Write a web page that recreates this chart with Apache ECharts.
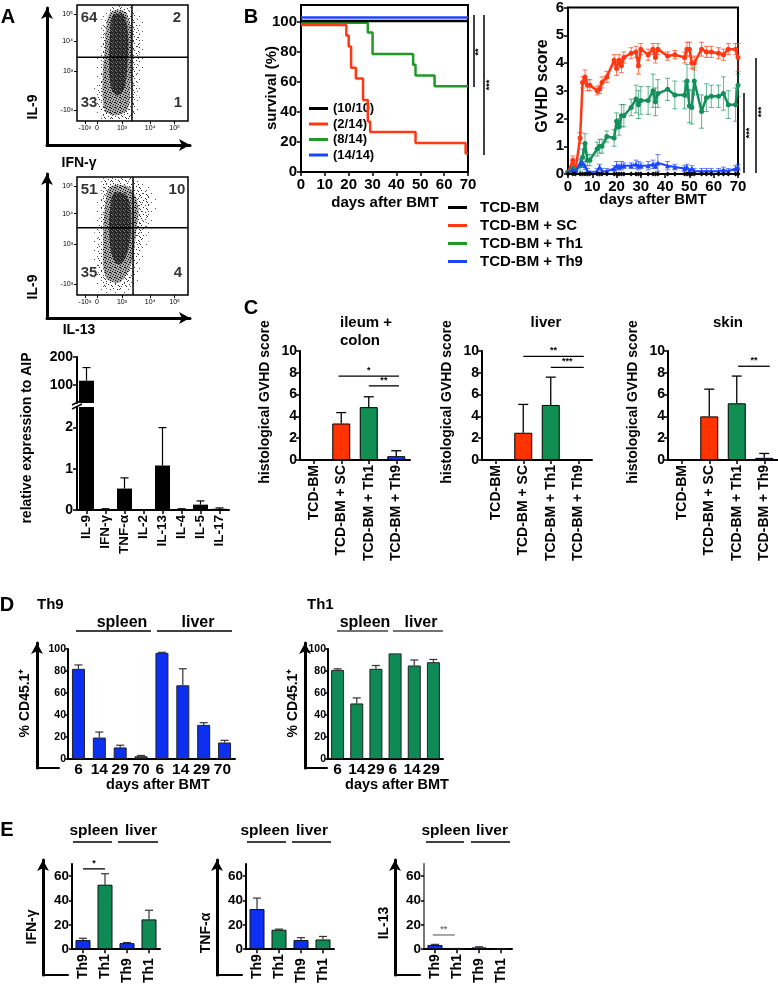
<!DOCTYPE html>
<html><head><meta charset="utf-8">
<script src="https://cdn.jsdelivr.net/npm/echarts@6/dist/echarts.min.js"></script>
<style>html,body{margin:0;padding:0;background:#fff}#c{width:778px;height:986px}</style>
</head><body><div id="c"></div>
<script>
// ================= DATA =================
// A – flow cytometry (axis units 0..100 on a biexponential display scale)
const flowXTicks = [7, 18, 40.5, 66, 88];
const flowXLabels = ['-10³', '0', '10³', '10⁴', '10⁵'];
const flowYTicks = [9, 43, 69, 92];
const flowYLabels = ['-10³', '10³', '10⁴', '10⁵'];
const flow1Quad = [49.5, 55];          // IFN-γ gate, IL-9 gate
const flow1Pct = ['64', '2', '33', '1']; // UL, UR, LL, LR
const flow2Quad = [50.5, 57];
const flow2Pct = ['51', '10', '35', '4'];
const flow1Halo = [[30,99],[46,99.5],[57,92],[62,70],[59,42],[56,15],[52,0.5],[36,0],[20,1],[15,18],[17,42],[19,65],[22,88]];
const flow1Outer = [[31.5,97.4],[43.2,98.3],[52.3,91.4],[56.8,69.8],[55.0,44.0],[53.2,18.1],[50.5,2.6],[36.9,0.9],[23.4,2.6],[18.9,18.1],[20.7,39.7],[22.5,61.2],[24.3,82.8]];
const flow1Mid = [[30.5,94],[43,94.5],[49,78],[49,55],[48,30],[45.5,10],[34.2,5],[25,10],[23,36],[25,60],[26.5,82]];
const flow1Core = [[32.4,91],[42,91],[46,74],[45.5,50],[43,30],[37,22],[31,28],[29,50],[29.7,72]];
const flow2Halo = [[23,99],[45,99.8],[62,95],[72,80],[66,52],[59,26],[50,4],[28,1],[17,10],[15,38],[17,72],[19,91]];
const flow2Outer = [[25.2,97.5],[43.2,99.2],[56.8,93.2],[65.8,80.5],[61.3,55.1],[55,29.7],[47.7,8.5],[29.7,4.2],[20.7,12.7],[18.9,38.1],[20.7,72],[22.5,89]];
const flow2Mid = [[29.7,91.5],[46.5,91.5],[55,76.3],[53,50.8],[48.5,25.4],[38.7,11],[26,15],[23.5,46.6],[25.5,76.3]];
const flow2Core = [[33.3,86],[45,84],[48.5,62],[46,38],[39,26],[32,32],[29,55],[30,74]];

// A – qPCR
const cytokines = ['IL-9', 'IFN-γ', 'TNF-α', 'IL-2', 'IL-13', 'IL-4', 'IL-5', 'IL-17'];
const cytoMean = [115, 0.02, 0.52, 0.01, 1.08, 0.02, 0.13, 0.03];
const cytoUpper = [162, 0.03, 0.78, 0.01, 2.0, 0.03, 0.22, 0.05];

// B – survival (Kaplan–Meier, plotted with GraphPad offsets)
const survBM_days = [0, 70];            const survBM = [100.7, 100.7];
const survSC_days = [0, 19, 20, 21, 23, 26, 28, 29, 48, 69, 70];
const survSC = [98, 90.9, 83.7, 69.4, 62.3, 48, 33.7, 26.6, 19.4, 12.3, 12.3];
const survTh1_days = [0, 28, 30, 47, 48, 56, 70];
const survTh1 = [99.5, 92.9, 78.6, 71.4, 64.3, 57.1, 57.1];
const survTh9_days = [0, 70];           const survTh9 = [103, 103];
const survNames = ['(10/10)', '(2/14)', '(8/14)', '(14/14)'];

// B – clinical GVHD score
const gvhdDays = [0,2,3,5,6,7,8,9,12,13,14,16,19,20,21,22,23,26,28,29,30,33,35,36,37,41,44,48,49,50,51,52,55,57,59,62,64,66,69,70];
const gvhdBM  = [0,0,0,0,0,0,0,0,0,0,0,0,0,0,0,0,0,0,0,0,0,0,0,0,0,0,0,0,0,0,0,0,0,0,0,0,0,0,0,0];
const gvhdSC  = [0.05,0.5,0.1,1.3,3.3,3.5,3.2,3.2,3.0,3.05,3.3,3.5,4.1,3.8,4.1,3.9,4.2,4.35,4.4,3.9,4.5,4.3,4.5,4.2,4.5,4.25,4.3,4.2,4.5,4.5,4.0,4.0,4.5,4.4,4.4,4.35,4.3,4.5,4.5,4.2];
const gvhdSCerr = [0.05,0.15,0.05,0.2,0.2,0.25,0.2,0.2,0.15,0.15,0.2,0.2,0.2,0.25,0.2,0.25,0.2,0.2,0.2,0.3,0.2,0.2,0.2,0.2,0.2,0.15,0.15,0.2,0.25,0.25,0.2,0.25,0.25,0.2,0.2,0.2,0.2,0.2,0.2,0.5];
const gvhdTh1 = [0.05,0.2,0.1,0.3,0.6,1.1,0.5,0.5,0.9,1.0,1.0,1.35,1.3,1.9,1.7,2.1,2.1,2.4,2.7,2.5,2.65,2.65,3.0,2.6,2.9,3.05,2.85,2.85,3.35,2.45,2.4,3.35,2.25,2.75,2.8,2.8,2.9,2.5,2.5,3.2];
const gvhdTh1err = [0.05,0.1,0.1,0.2,0.3,0.35,0.2,0.2,0.25,0.25,0.25,0.2,0.3,0.3,0.3,0.4,0.4,0.3,0.5,0.5,0.5,0.5,0.6,0.5,0.5,0.4,0.5,0.5,0.6,0.6,0.6,0.5,0.6,0.5,0.4,0.4,0.6,0.5,0.6,0.4];
const gvhdTh9 = [0.05,0.15,0.05,0.4,0.4,0.3,0.1,0.05,0.1,0.25,0.1,0.1,0.2,0.3,0.25,0.3,0.3,0.3,0.35,0.3,0.3,0.3,0.35,0.3,0.4,0.3,0.25,0.2,0.25,0.1,0.2,0.1,0.1,0.1,0.1,0.1,0.15,0.1,0.2,0.25];
const gvhdTh9err = [0.05,0.1,0.05,0.15,0.15,0.15,0.1,0.05,0.1,0.1,0.1,0.1,0.1,0.15,0.1,0.15,0.1,0.1,0.15,0.15,0.1,0.15,0.15,0.1,0.3,0.15,0.1,0.1,0.1,0.1,0.1,0.1,0.1,0.1,0.1,0.1,0.1,0.1,0.1,0.1];
const groupNames = ['TCD-BM', 'TCD-BM + SC', 'TCD-BM + Th1', 'TCD-BM + Th9'];

// C – histological GVHD score (mean, upper end of error bar)
const ileumMean = [0, 3.35, 4.85, 0.35];  const ileumUpper = [0, 4.35, 5.8, 0.85];
const liverMean = [0, 2.5, 5.05, 0];      const liverUpper = [0, 5.1, 7.6, 0];
const skinMean  = [0.05, 4.0, 5.2, 0.2];  const skinUpper  = [0.05, 6.5, 7.7, 0.6];
const ileumSig = [{x1:0.9, x2:3.1, y:7.7, t:'*'}, {x1:2.0, x2:3.1, y:6.8, t:'**'}];
const liverSig = [{x1:1.0, x2:3.2, y:9.5, t:'**'}, {x1:2.0, x2:3.2, y:8.5, t:'***'}];
const skinSig  = [{x1:2.05, x2:3.2, y:8.6, t:'**'}];

// D – % CD45.1+
const dTh9Days = ['6', '14', '29', '70', '6 ', '14 ', '29 ', '70 '];
const dTh9Mean = [82, 19.5, 10.5, 2.5, 96.5, 67, 31, 15];
const dTh9Upper = [85.5, 24.5, 12.5, 3.2, 97, 82, 33, 17];
const dTh1Days = ['6', '14', '29', '6 ', '14 ', '29 '];
const dTh1Mean = [81, 50.5, 82, 96, 85, 88];
const dTh1Upper = [82, 55.5, 85, 96, 90, 90.5];

// E – cytokine production
const eCats = ['Th9', 'Th1', 'Th9 ', 'Th1 '];
const ifnMean = [7.5, 53, 5, 24.5];   const ifnUpper = [9, 62, 5.5, 32];
const tnfMean = [33, 16, 7.5, 8];     const tnfUpper = [42, 16.5, 9.5, 10.5];
const il13Mean = [3.5, 0.5, 1.5, 0.3]; const il13Upper = [4, 0.6, 2, 0.35];
const ifnSig = [{x1:0, x2:1, y:66, t:'*'}];
const il13Sig = [{x1:-0.1, x2:0.9, y:11.7, t:'**'}];

// ================= STYLE / BUILD =================
const FONT = '"Liberation Sans", Arial, Helvetica, sans-serif';
const RED = '#ff3814', SGREEN = '#1f9b25', GGREEN = '#13905a', BLUE = '#1d45ff';
const barColorsC = ['#000000', '#ff3300', '#0f8f52', '#1438f0'];
const D_BLUE = '#0b30f2', D_GREEN = '#0e8a56';

const grids = [], xAxes = [], yAxes = [], series = [], graphics = [];
function addGrid(g, xa, ya) {
  grids.push(Object.assign({containLabel: false, show: false}, g));
  const i = grids.length - 1;
  xAxes.push(Object.assign({gridIndex: i, splitLine: {show: false}}, xa));
  yAxes.push(Object.assign({gridIndex: i, splitLine: {show: false}}, ya));
  return i;
}
const lab = (size, extra) => Object.assign({color: '#000', fontFamily: FONT, fontWeight: 'bold', fontSize: size}, extra || {});
const axl = (w, c) => ({show: true, onZero: false, lineStyle: {color: c || '#000', width: w || 2}});
const tk = (len, extra) => Object.assign({show: true, inside: false, length: len || 4, lineStyle: {color: '#000', width: 1.5}}, extra || {});

function txt(x, y, text, size, o) {
  o = o || {};
  graphics.push({type: 'text', x, y, rotation: o.rot || 0, silent: true, z: 100,
    style: {text, fill: o.color || '#000', fontFamily: FONT, fontWeight: o.weight || 'bold', fontSize: size,
      align: o.align || 'center', verticalAlign: o.va || 'middle', textAlign: o.align || 'center', textVerticalAlign: o.va || 'middle'}});
}
function ln(x1, y1, x2, y2, w, c) {
  graphics.push({type: 'line', silent: true, z: 100, shape: {x1, y1, x2, y2}, style: {stroke: c || '#000', lineWidth: w || 1.5}});
}
function errSeries(gi, data, color, capPx, lw, two) {
  return {type: 'custom', xAxisIndex: gi, yAxisIndex: gi, data, silent: true, z: 1, clip: false,
    renderItem(params, api) {
      const x = api.value(0), lo = api.value(1), hi = api.value(2);
      const a = api.coord([x, lo]), b = api.coord([x, hi]);
      const st = {stroke: color, lineWidth: lw};
      const ch = [
        {type: 'line', shape: {x1: a[0], y1: a[1], x2: b[0], y2: b[1]}, style: st},
        {type: 'line', shape: {x1: b[0] - capPx / 2, y1: b[1], x2: b[0] + capPx / 2, y2: b[1]}, style: st}];
      if (two) ch.push({type: 'line', shape: {x1: a[0] - capPx / 2, y1: a[1], x2: a[0] + capPx / 2, y2: a[1]}, style: st});
      return {type: 'group', children: ch};
    }};
}
function sigSeries(gi, sigs, color, fs) {
  return {type: 'custom', xAxisIndex: gi, yAxisIndex: gi, silent: true, z: 5, clip: false,
    data: sigs.map(s => [Math.floor(s.x1), s.y]),
    renderItem(params, api) {
      const s = sigs[params.dataIndex];
      const bw = api.size([1, 0])[0];
      const p = x => { const f = Math.floor(x); const c = api.coord([f, s.y]); return [c[0] + (x - f) * bw, c[1]]; };
      const a = p(s.x1), b = p(s.x2);
      return {type: 'group', children: [
        {type: 'line', shape: {x1: a[0], y1: a[1], x2: b[0], y2: b[1]}, style: {stroke: color, lineWidth: 1.3}},
        {type: 'text', x: (a[0] + b[0]) / 2, y: a[1] - 1, style: {text: s.t, fill: color, fontFamily: FONT, fontWeight: 'bold', fontSize: fs || 9, align: 'center', verticalAlign: 'bottom'}}]};
    }};
}
function polySeries(gi, pts, fill) {
  return {type: 'custom', xAxisIndex: gi, yAxisIndex: gi, data: pts, silent: true, z: 1,
    renderItem(params, api) {
      if (params.dataIndex !== 0) return;
      return {type: 'polygon', shape: {points: pts.map(p => api.coord(p)), smooth: 0.35}, style: {fill}};
    }};
}
function dotPattern(size, dots, bg, dot) {
  const c = document.createElement('canvas'); c.width = size; c.height = size;
  const g = c.getContext('2d');
  if (bg) { g.fillStyle = bg; g.fillRect(0, 0, size, size); }
  g.fillStyle = dot || '#111';
  dots.forEach(d => g.fillRect(d[0], d[1], 1, 1));
  return {image: c, repeat: 'repeat'};
}
const patHalo = dotPattern(9, [[2, 1], [7, 4], [4, 7]], null, '#555');
const patSparse = dotPattern(7, [[1, 1], [5, 2], [3, 4], [0, 6], [6, 5]], null, '#333');
const patMid = dotPattern(5, [[0, 0], [2, 1], [4, 2], [1, 3], [3, 4], [0, 2]], '#a8a8a8', '#111');
const patCore = dotPattern(4, [[1, 1], [3, 2], [0, 3]], '#262626', '#7a7a7a');

function arrowFrame(left, top, width, height, xArrow) {
  const arrowLine = {show: true, onZero: false, symbol: ['none', 'arrow'], symbolSize: [9, 11], lineStyle: {color: '#000', width: 3}};
  const plain = {show: true, onZero: false, lineStyle: {color: '#000', width: 2}};
  addGrid({left, top, width, height},
    {type: 'value', min: 0, max: 1, axisLine: xArrow ? arrowLine : plain, axisTick: {show: false}, axisLabel: {show: false}},
    {type: 'value', min: 0, max: 1, axisLine: arrowLine, axisTick: {show: false}, axisLabel: {show: false}});
}

// ---------- A: flow plots ----------
function flowPanel(top, height, quad, pct, pctY, halo, outer, mid, core) {
  const gi = addGrid({left: 77, top, width: 111, height, show: true, borderColor: '#000', borderWidth: 1.5},
    {type: 'value', min: 0, max: 100, axisLine: {show: false},
      axisTick: tk(3, {customValues: flowXTicks, lineStyle: {color: '#000', width: 1}}),
      axisLabel: lab(7, {customValues: flowXTicks, fontWeight: 'normal', margin: 4, formatter: v => flowXLabels[flowXTicks.indexOf(v)]})},
    {type: 'value', min: 0, max: 100, axisLine: {show: false},
      axisTick: tk(3, {customValues: flowYTicks, lineStyle: {color: '#000', width: 1}}),
      axisLabel: lab(7, {customValues: flowYTicks, fontWeight: 'normal', margin: 4, formatter: v => flowYLabels[flowYTicks.indexOf(v)]})});
  series.push(polySeries(gi, halo, patHalo), polySeries(gi, outer, patSparse), polySeries(gi, mid, patMid), polySeries(gi, core, patCore));
  const qs = {type: 'line', xAxisIndex: gi, yAxisIndex: gi, symbol: 'none', silent: true, z: 4, lineStyle: {color: '#000', width: 1.5}};
  series.push(Object.assign({}, qs, {data: [[quad[0], 0], [quad[0], 100]]}));
  series.push(Object.assign({}, qs, {data: [[0, quad[1]], [100, quad[1]]]}));
  series.push({type: 'scatter', xAxisIndex: gi, yAxisIndex: gi, symbolSize: 1, silent: true, z: 6,
    itemStyle: {color: 'transparent'},
    label: {show: true, position: 'inside', formatter: '{b}', color: '#000', fontFamily: FONT, fontWeight: 'bold', fontSize: 15},
    data: [{name: pct[0], value: [10.8, pctY[0]]}, {name: pct[1], value: [90, pctY[0]]},
           {name: pct[2], value: [10.8, pctY[1]]}, {name: pct[3], value: [91, pctY[1]]}]});
}
flowPanel(5, 116, flow1Quad, flow1Pct, [88.8, 15.5], flow1Halo, flow1Outer, flow1Mid, flow1Core);
arrowFrame(47, 8, 143, 137, true);
flowPanel(177, 118, flow2Quad, flow2Pct, [89, 18.6], flow2Halo, flow2Outer, flow2Mid, flow2Core);
arrowFrame(47, 174, 143, 144, true);
txt(8, 17, 'A', 20);
txt(33, 107, 'IL-9', 14, {rot: Math.PI / 2});
txt(79, 163, 'IFN-γ', 14);
txt(33, 287, 'IL-9', 14, {rot: Math.PI / 2});
txt(79, 330, 'IL-13', 14);

// ---------- A: qPCR broken-axis bars ----------
(function () {
  const top = addGrid({left: 77, top: 357, width: 152, height: 46},
    {type: 'category', data: cytokines, show: false},
    {type: 'value', min: 35, max: 200, axisLine: axl(2), axisTick: tk(4, {customValues: [100, 200]}),
      axisLabel: lab(14, {customValues: [100, 200], margin: 4})});
  series.push({type: 'bar', xAxisIndex: top, yAxisIndex: top, barWidth: 15, silent: true,
    itemStyle: {color: '#000'}, data: cytoMean.map((v, i) => i === 0 ? v : '-')});
  series.push(errSeries(top, [[0, cytoMean[0], cytoUpper[0]]], '#000', 8, 1.2, false));
  const bot = addGrid({left: 77, top: 407, width: 152, height: 103},
    {type: 'category', data: cytokines, axisLine: axl(2), axisTick: tk(4, {alignWithLabel: true}),
      axisLabel: lab(13.5, {rotate: 90, margin: 5, interval: 0})},
    {type: 'value', min: 0, max: 2.5, axisLine: axl(2), axisTick: tk(4, {customValues: [0, 1, 2]}),
      axisLabel: lab(14, {customValues: [0, 1, 2], margin: 4})});
  series.push({type: 'bar', xAxisIndex: bot, yAxisIndex: bot, barWidth: 15, silent: true, clip: true,
    itemStyle: {color: '#000'}, data: cytoMean});
  series.push(errSeries(bot, cytoMean.map((v, i) => [i, v, cytoUpper[i]]).filter((d, i) => i > 0), '#000', 8, 1.2, false));
  ln(72, 405, 82, 400, 1.5);
  ln(72, 409, 82, 404, 1.5);
  txt(27, 438, 'relative expression to AIP', 14, {rot: Math.PI / 2});
})();

// ---------- B: survival ----------
(function () {
  const gi = addGrid({left: 301, top: 5, width: 167, height: 167, show: true, borderColor: '#000', borderWidth: 2},
    {type: 'value', min: 0, max: 70, interval: 10, axisLine: axl(2), axisTick: tk(4), axisLabel: lab(15, {margin: 5})},
    {type: 'value', min: 0, max: 111.3, axisLine: axl(2), axisTick: tk(4, {customValues: [0, 20, 40, 60, 80, 100]}),
      axisLabel: lab(15, {customValues: [0, 20, 40, 60, 80, 100], margin: 4})});
  const mk = (name, d, v, c, z) => ({type: 'line', name, xAxisIndex: gi, yAxisIndex: gi, step: 'end', symbol: 'none', silent: true, z,
    lineStyle: {color: c, width: 2.5}, itemStyle: {color: c}, data: d.map((x, i) => [x, v[i]])});
  series.push(mk(survNames[2], survTh1_days, survTh1, SGREEN, 3));
  series.push(mk(survNames[0], survBM_days, survBM, '#000', 4));
  series.push(mk(survNames[1], survSC_days, survSC, RED, 5));
  series.push(mk(survNames[3], survTh9_days, survTh9, BLUE, 6));
  txt(251, 17, 'B', 20);
  txt(272, 88, 'survival (%)', 15, {rot: Math.PI / 2});
  txt(385, 203, 'days after BMT', 15);
  ln(474, 15, 474, 87, 1.5); txt(479, 52, '**', 9, {rot: Math.PI / 2});
  ln(484, 15, 484, 155, 1.5); txt(490, 85, '***', 9, {rot: Math.PI / 2});
})();

// ---------- B: GVHD score ----------
(function () {
  const gi = addGrid({left: 568, top: 6, width: 170, height: 168, show: true, borderColor: '#000', borderWidth: 2},
    {type: 'value', min: 0, max: 70, interval: 10, axisLine: axl(2), axisTick: tk(4), axisLabel: lab(15, {margin: 5})},
    {type: 'value', min: 0, max: 6, interval: 1, axisLine: axl(2), axisTick: tk(4), axisLabel: lab(15, {margin: 4})});
  const mk = (name, v, c, sym, w, z) => ({type: 'line', name, xAxisIndex: gi, yAxisIndex: gi, symbol: sym, symbolSize: 5, silent: true, z,
    showAllSymbol: true, lineStyle: {color: c, width: w}, itemStyle: {color: c}, data: gvhdDays.map((x, i) => [x, v[i]])});
  const eb = (v, e, c) => errSeries(gi, gvhdDays.map((x, i) => [x, v[i] - e[i], v[i] + e[i]]), c, 5, 1, true);
  series.push(eb(gvhdSC, gvhdSCerr, 'rgba(255,70,30,0.75)'));
  series.push(eb(gvhdTh1, gvhdTh1err, 'rgba(30,150,95,0.7)'));
  series.push(eb(gvhdTh9, gvhdTh9err, 'rgba(40,80,255,0.7)'));
  series.push(mk(groupNames[1], gvhdSC, RED, 'circle', 2.5, 3));
  series.push(mk(groupNames[2], gvhdTh1, GGREEN, 'circle', 2.5, 3));
  series.push(mk(groupNames[3], gvhdTh9, BLUE, 'triangle', 2, 4));
  series.push(mk(groupNames[0], gvhdBM, '#000', 'diamond', 2, 5));
  txt(543, 86, 'GVHD score', 16, {rot: Math.PI / 2});
  txt(653, 200, 'days after BMT', 15);
  ln(744, 93, 744, 173, 1.5); txt(750, 133, '***', 9, {rot: Math.PI / 2});
  ln(756, 58, 756, 173, 1.5); txt(762, 112, '***', 9, {rot: Math.PI / 2});
})();

// ---------- C: histology ----------
function histPanel(left, mean, upper, sigs) {
  const gi = addGrid({left, top: 351, width: 110, height: 109},
    {type: 'category', data: groupNames, axisLine: axl(2), axisTick: tk(4, {alignWithLabel: true}),
      axisLabel: lab(14, {rotate: 90, margin: 5, interval: 0})},
    {type: 'value', min: 0, max: 10, interval: 2, axisLine: axl(2), axisTick: tk(4), axisLabel: lab(14, {margin: 3})});
  series.push({type: 'bar', xAxisIndex: gi, yAxisIndex: gi, barWidth: 18, silent: true, z: 2,
    data: mean.map((v, i) => ({value: v, itemStyle: {color: barColorsC[i], borderColor: '#000', borderWidth: 1}}))});
  series.push(errSeries(gi, mean.map((v, i) => [i, v, upper[i]]).filter((d, i) => upper[i] > mean[i]), '#000', 10, 1.3, false));
  series.push(sigSeries(gi, sigs, '#000', 9));
  txt(left - 35, 402, 'histological GVHD score', 14, {rot: Math.PI / 2});
  return gi;
}
histPanel(300, ileumMean, ileumUpper, ileumSig);
histPanel(482, liverMean, liverUpper, liverSig);
histPanel(668, skinMean, skinUpper, skinSig);
txt(251, 308, 'C', 20);
txt(340, 323, 'ileum +', 15, {align: 'left'});
txt(340, 341, 'colon', 15, {align: 'left'});
txt(546, 323, 'liver', 15);
txt(728, 323, 'skin', 15);

// ---------- D: % CD45.1+ ----------
function dPanel(left, width, cats, mean, upper, color) {
  const gi = addGrid({left, top: 649, width, height: 110},
    {type: 'category', data: cats, axisLine: axl(2), axisTick: {show: false}, axisLabel: lab(15.5, {margin: 3, interval: 0})},
    {type: 'value', min: 0, max: 100, interval: 20, axisLine: axl(2), axisTick: tk(3), axisLabel: lab(10.5, {margin: 2})});
  series.push({type: 'bar', xAxisIndex: gi, yAxisIndex: gi, barWidth: 13, silent: true, z: 2,
    itemStyle: {color, borderColor: '#222', borderWidth: 1}, data: mean});
  series.push(errSeries(gi, mean.map((v, i) => [i, v, upper[i]]).filter((d, i) => upper[i] > mean[i]), '#333', 8, 1.2, false));
}
dPanel(68, 167, dTh9Days, dTh9Mean, dTh9Upper, D_BLUE);
dPanel(328, 115, dTh1Days, dTh1Mean, dTh1Upper, D_GREEN);
arrowFrame(37, 643, 22, 125, false);
arrowFrame(305, 643, 22, 125, false);
txt(7, 605, 'D', 20);
txt(37, 605, 'Th9', 15, {align: 'left'});
txt(307, 605, 'Th1', 15, {align: 'left'});
txt(122, 623, 'spleen', 16); ln(76, 631, 151, 631, 1.5);
txt(198, 623, 'liver', 16);  ln(157, 631, 232, 631, 1.5);
txt(365, 623, 'spleen', 16); ln(337, 631, 388, 631, 1.5, '#444');
txt(421, 623, 'liver', 16);  ln(393, 631, 443, 631, 1.5, '#444');
txt(25, 703, '% CD45.1⁺', 14, {rot: Math.PI / 2});
txt(293, 703, '% CD45.1⁺', 14, {rot: Math.PI / 2});
txt(158, 785, 'days after BMT', 14.5);
txt(397, 785, 'days after BMT', 14.5);

// ---------- E: cytokines ----------
function ePanel(left, mean, upper, sigs, sigColor, axisColor, ylab, labY) {
  const gi = addGrid({left, top: 864, width: 88, height: 90},
    {type: 'category', data: eCats, axisLine: axl(2), axisTick: tk(4, {alignWithLabel: true}), axisLabel: lab(14, {rotate: 90, margin: 5, interval: 0})},
    {type: 'value', min: 0, max: 70, axisLine: axl(2, axisColor), axisTick: tk(3, {customValues: [0, 20, 40, 60]}),
      axisLabel: lab(13.5, {customValues: [0, 20, 40, 60], margin: 3})});
  series.push({type: 'bar', xAxisIndex: gi, yAxisIndex: gi, barWidth: 15, silent: true, z: 2,
    data: mean.map((v, i) => ({value: v, itemStyle: {color: i % 2 === 0 ? D_BLUE : D_GREEN, borderColor: '#111', borderWidth: 1}}))});
  series.push(errSeries(gi, mean.map((v, i) => [i, v, upper[i]]).filter((d, i) => upper[i] > mean[i]), '#333', 8, 1.2, false));
  if (sigs) series.push(sigSeries(gi, sigs, sigColor, 9));
  arrowFrame(left - 29, 860, 25, 115, false);
  txt(left - 40, labY, ylab, 14, {rot: Math.PI / 2});
}
ePanel(72, ifnMean, ifnUpper, ifnSig, '#000', '#000', 'IFN-γ', 927);
ePanel(246, tnfMean, tnfUpper, null, '#000', '#000', 'TNF-α', 933);
ePanel(424, il13Mean, il13Upper, il13Sig, '#777', '#777', 'IL-13', 923);
txt(7, 830, 'E', 20);
txt(94, 831, 'spleen', 15.5);  ln(73, 842, 112, 842, 1.5);
txt(141, 831, 'liver', 15.5);  ln(118, 842, 158, 842, 1.5);
txt(265, 831, 'spleen', 15.5); ln(247, 842, 286, 842, 1.5);
txt(312, 831, 'liver', 15.5);  ln(292, 842, 331, 842, 1.5);
txt(446, 831, 'spleen', 15.5); ln(426, 842, 464, 842, 1.5);
txt(492, 831, 'liver', 15.5);  ln(471, 842, 510, 842, 1.5);

// ---------- legends ----------
const legText = {fontFamily: FONT, fontWeight: 'bold', color: '#000'};
const option = {
  animation: false,
  backgroundColor: '#fff',
  grid: grids, xAxis: xAxes, yAxis: yAxes, series,
  graphic: {elements: graphics},
  legend: [
    {left: 304, top: 97, orient: 'vertical', icon: 'rect', itemWidth: 19, itemHeight: 3, itemGap: 2.5, selectedMode: false,
      textStyle: Object.assign({fontSize: 13}, legText),
      data: [{name: survNames[0], itemStyle: {color: '#000'}}, {name: survNames[1], itemStyle: {color: RED}},
             {name: survNames[2], itemStyle: {color: SGREEN}}, {name: survNames[3], itemStyle: {color: BLUE}}]},
    {left: 443, top: 195, orient: 'vertical', icon: 'rect', itemWidth: 19, itemHeight: 3, itemGap: 3, selectedMode: false,
      textStyle: Object.assign({fontSize: 15, padding: [0, 0, 0, 8]}, legText),
      data: [{name: groupNames[0], itemStyle: {color: '#000'}}, {name: groupNames[1], itemStyle: {color: RED}},
             {name: groupNames[2], itemStyle: {color: SGREEN}}, {name: groupNames[3], itemStyle: {color: BLUE}}]}
  ]
};
const chart = echarts.init(document.getElementById('c'), null, {renderer: 'canvas', width: 778, height: 986});
chart.setOption(option);
</script>
</body></html>
